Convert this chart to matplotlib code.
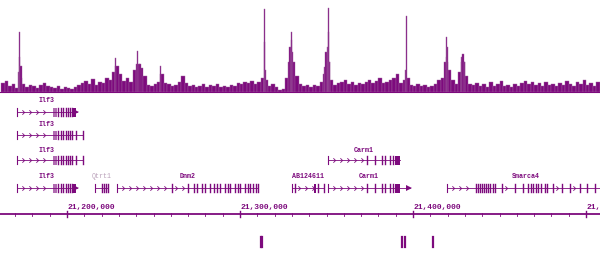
import matplotlib
matplotlib.use("Agg")
import matplotlib.pyplot as plt
from matplotlib.path import Path
import numpy as np

# ---------------- data (x in kb) ----------------
X_MIN, X_MAX = 21161.27, 21508.09

# background signal, 2 kb bins starting at 21162 kb
bin_start = 21162.0
bin_size = 2.0
signal_bg = [9, 11, 6, 8, 4, 14, 8, 5, 7, 6, 4, 7, 9, 6, 5, 4, 6, 3, 5, 4,
             3, 5, 7, 9, 11, 8, 13, 7, 10, 9, 14, 12, 20, 26, 18, 11, 14, 10, 22, 28,
             24, 16, 7, 6, 8, 10, 18, 9, 8, 6, 7, 10, 16, 9, 6, 7, 5, 6, 8, 5,
             7, 6, 8, 5, 6, 5, 7, 6, 9, 8, 10, 9, 11, 8, 10, 14, 12, 6, 8, 5,
             2, 3, 14, 30, 30, 16, 8, 6, 7, 5, 7, 6, 10, 18, 30, 12, 7, 9, 10, 12,
             8, 10, 7, 9, 8, 10, 12, 9, 11, 14, 9, 10, 12, 14, 18, 9, 12, 14, 7, 6,
             8, 6, 7, 5, 6, 8, 12, 14, 30, 22, 12, 8, 20, 30, 16, 8, 7, 9, 6, 8,
             5, 10, 6, 8, 11, 6, 7, 5, 8, 6, 9, 11, 8, 10, 7, 9, 6, 10, 7, 8,
             6, 9, 7, 11, 8, 6, 10, 8, 12, 7, 9, 6, 10]

peak_pos = [21171.7, 21172.3, 21172.8, 21173.4, 21228.3, 21240.5, 21242.2, 21254.3,
            21313.9, 21314.4, 21315.0, 21328.9, 21329.5, 21330.0, 21330.6,
            21349.1, 21349.7, 21350.3, 21350.9, 21351.4, 21352.0,
            21395.9, 21396.5, 21419.1, 21419.6, 21420.2, 21428.3, 21428.9, 21429.5]
peak_val = [20, 35, 60, 26, 34, 41, 28, 26,
            50, 83, 22, 45, 52, 60, 40,
            25, 40, 45, 60, 84, 30,
            22, 76, 35, 55, 45, 35, 38, 30]

# gene models: (label, row, start, end, exons, thick blocks, end_arrow)
genes = [
    ("Ilf3", 0, 21171.1, 21205.8,
     [21194.8, 21196.5, 21197.7, 21199.4, 21200.6, 21201.7, 21202.9],
     [(21191.9, 21194.2, 0.6), (21203.5, 21205.2, 1.0)], True),
    ("Ilf3", 1, 21171.1, 21209.2,
     [21194.8, 21196.5, 21197.7, 21199.4, 21200.6, 21201.7, 21202.9, 21205.2, 21209.2],
     [(21191.9, 21194.2, 0.6)], False),
    ("Ilf3", 2, 21171.1, 21209.2,
     [21194.8, 21196.5, 21197.7, 21199.4, 21200.6, 21201.7, 21202.9, 21205.2, 21209.2],
     [(21191.9, 21194.2, 0.6)], False),
    ("Ilf3", 3, 21171.1, 21205.8,
     [21194.8, 21196.5, 21197.7, 21199.4, 21200.6, 21201.7, 21202.9],
     [(21191.9, 21194.2, 0.6), (21203.5, 21205.2, 1.0)], True),
    ("Qtrt1", 3, 21216.2, 21223.7,
     [21220.2, 21221.4, 21222.5, 21223.7], [], False),
    ("Dnm2", 3, 21228.9, 21310.4,
     [21260.7, 21269.9, 21273.4, 21275.1, 21278.0, 21279.8, 21282.7, 21285.0,
      21286.7, 21288.4, 21291.3, 21293.0, 21294.2, 21297.1, 21298.8, 21300.0,
      21302.9, 21304.6, 21305.8, 21307.5, 21309.2, 21310.4], [], False),
    ("AB124611", 3, 21330.0, 21348.5,
     [21331.8, 21345.1, 21348.5], [(21342.8, 21343.8, 1.0)], False),
    ("Carm1", 2, 21350.9, 21392.5,
     [21373.4, 21378.0, 21382.1, 21383.8, 21386.7, 21388.4],
     [(21389.6, 21392.5, 1.0)], False),
    ("Carm1", 3, 21350.9, 21398.3,
     [21373.4, 21378.0, 21382.1, 21383.8, 21386.7, 21388.4],
     [(21389.6, 21392.5, 1.0)], True),
    ("Smarca4", 3, 21419.6, 21511.0,
     [21436.4, 21437.6, 21438.7, 21439.9, 21441.0, 21442.2, 21443.3, 21444.5,
      21446.2, 21447.4, 21451.4, 21458.9, 21463.6, 21466.5, 21468.2, 21469.4,
      21471.1, 21472.2, 21474.0, 21476.3, 21477.4, 21480.9, 21486.1, 21490.7,
      21496.5, 21500.6, 21505.2], [], False),
]

bottom_marks = [21312.1, 21313.0, 21393.6, 21395.4, 21411.5]

major_ticks = [21200, 21300, 21400, 21500]
major_labels = ["21,200,000", "21,300,000", "21,400,000", "21,500,000"]

# ---------------- layout / style ----------------
PURPLE = "#7d0a7d"
LIGHT = "#a064a0"
BASE_Y = 92
ROW_Y = [112, 135, 160, 188]
LABEL_Y = [101, 124, 150, 177]
AXIS_Y = 214
MARK_Y = 242

fig = plt.figure(figsize=(6.0, 2.61), dpi=100)
ax = fig.add_axes([0, 0, 1, 1])
ax.set_xlim(X_MIN, X_MAX)
ax.set_ylim(261, 0)
ax.axis("off")

# signal track
bx = bin_start + bin_size * np.arange(len(signal_bg)) + bin_size / 2
ax.bar(bx, -np.array(signal_bg), bottom=BASE_Y, width=bin_size,
       color=PURPLE, edgecolor=LIGHT, linewidth=0.3)
ax.bar(peak_pos, -np.array(peak_val), bottom=BASE_Y, width=0.6,
       color=PURPLE, edgecolor=LIGHT, linewidth=0.3)
ax.plot([X_MIN, X_MAX], [BASE_Y, BASE_Y], color=PURPLE, lw=0.8)

chev = Path([(-0.5, 1), (0.5, 0), (-0.5, -1)],
            [Path.MOVETO, Path.LINETO, Path.LINETO])
mono = ["Liberation Mono", "DejaVu Sans Mono"]

for label, row, start, end, exons, thick, arrow in genes:
    y = ROW_Y[row]
    ax.plot([start, end], [y, y], color=PURPLE, lw=0.6)
    ax.plot([start, start], [y - 4, y + 4], color=PURPLE, lw=0.8)
    first = min([e for e in exons] + [t[0] for t in thick])
    cx = np.arange(start + 3.5, first - 1.5, 4.0)
    ax.plot(cx, np.full(len(cx), y), linestyle="none", marker=chev,
            markersize=3.2, mfc="none", mec=PURPLE, mew=0.6)
    pts = sorted(exons)
    for a, b in zip(pts[:-1], pts[1:]):
        if b - a > 5.0:
            cc = np.arange(a + 2.5, b - 1.0, 4.0)
            ax.plot(cc, np.full(len(cc), y), linestyle="none", marker=chev,
                    markersize=3.2, mfc="none", mec=PURPLE, mew=0.6)
    for e in exons:
        ax.plot([e, e], [y - 4, y + 4], color=PURPLE, lw=1.0)
    for s, t, a in thick:
        ax.fill_between([s, t], y - 4.5, y + 4.5, color=PURPLE, alpha=a, lw=0)
    if arrow:
        ax.plot([end - 0.8], [y], marker=">", markersize=5, color=PURPLE, mew=0)
    col = "#b9a0b9" if label == "Qtrt1" else PURPLE
    ax.text((start + end) / 2 if label != "Ilf3" else 21188.4, LABEL_Y[row],
            label, ha="center", va="center", fontsize=4.8, family=mono,
            color=col, fontweight="bold" if label != "Qtrt1" else "normal")

# coordinate axis
ax.plot([X_MIN, X_MAX], [AXIS_Y, AXIS_Y], color=PURPLE, lw=1.3)
minor = np.arange(21170, 21510, 10)
for m in minor:
    if m not in major_ticks:
        ax.plot([m, m], [AXIS_Y - 1.5, AXIS_Y + 1.5], color=PURPLE, lw=0.6)
for t, lab in zip(major_ticks, major_labels):
    ax.plot([t, t], [AXIS_Y - 3, AXIS_Y + 3], color=PURPLE, lw=1.0)
    ax.text(t + 0.3, AXIS_Y - 5, lab, ha="left", va="baseline", fontsize=5.8,
            family=mono, fontweight="bold", color=PURPLE)

# bottom feature marks
for bm in bottom_marks:
    ax.plot([bm, bm], [MARK_Y - 5, MARK_Y + 5], color=PURPLE, lw=1.6)

fig.savefig("out.png", dpi=100)
